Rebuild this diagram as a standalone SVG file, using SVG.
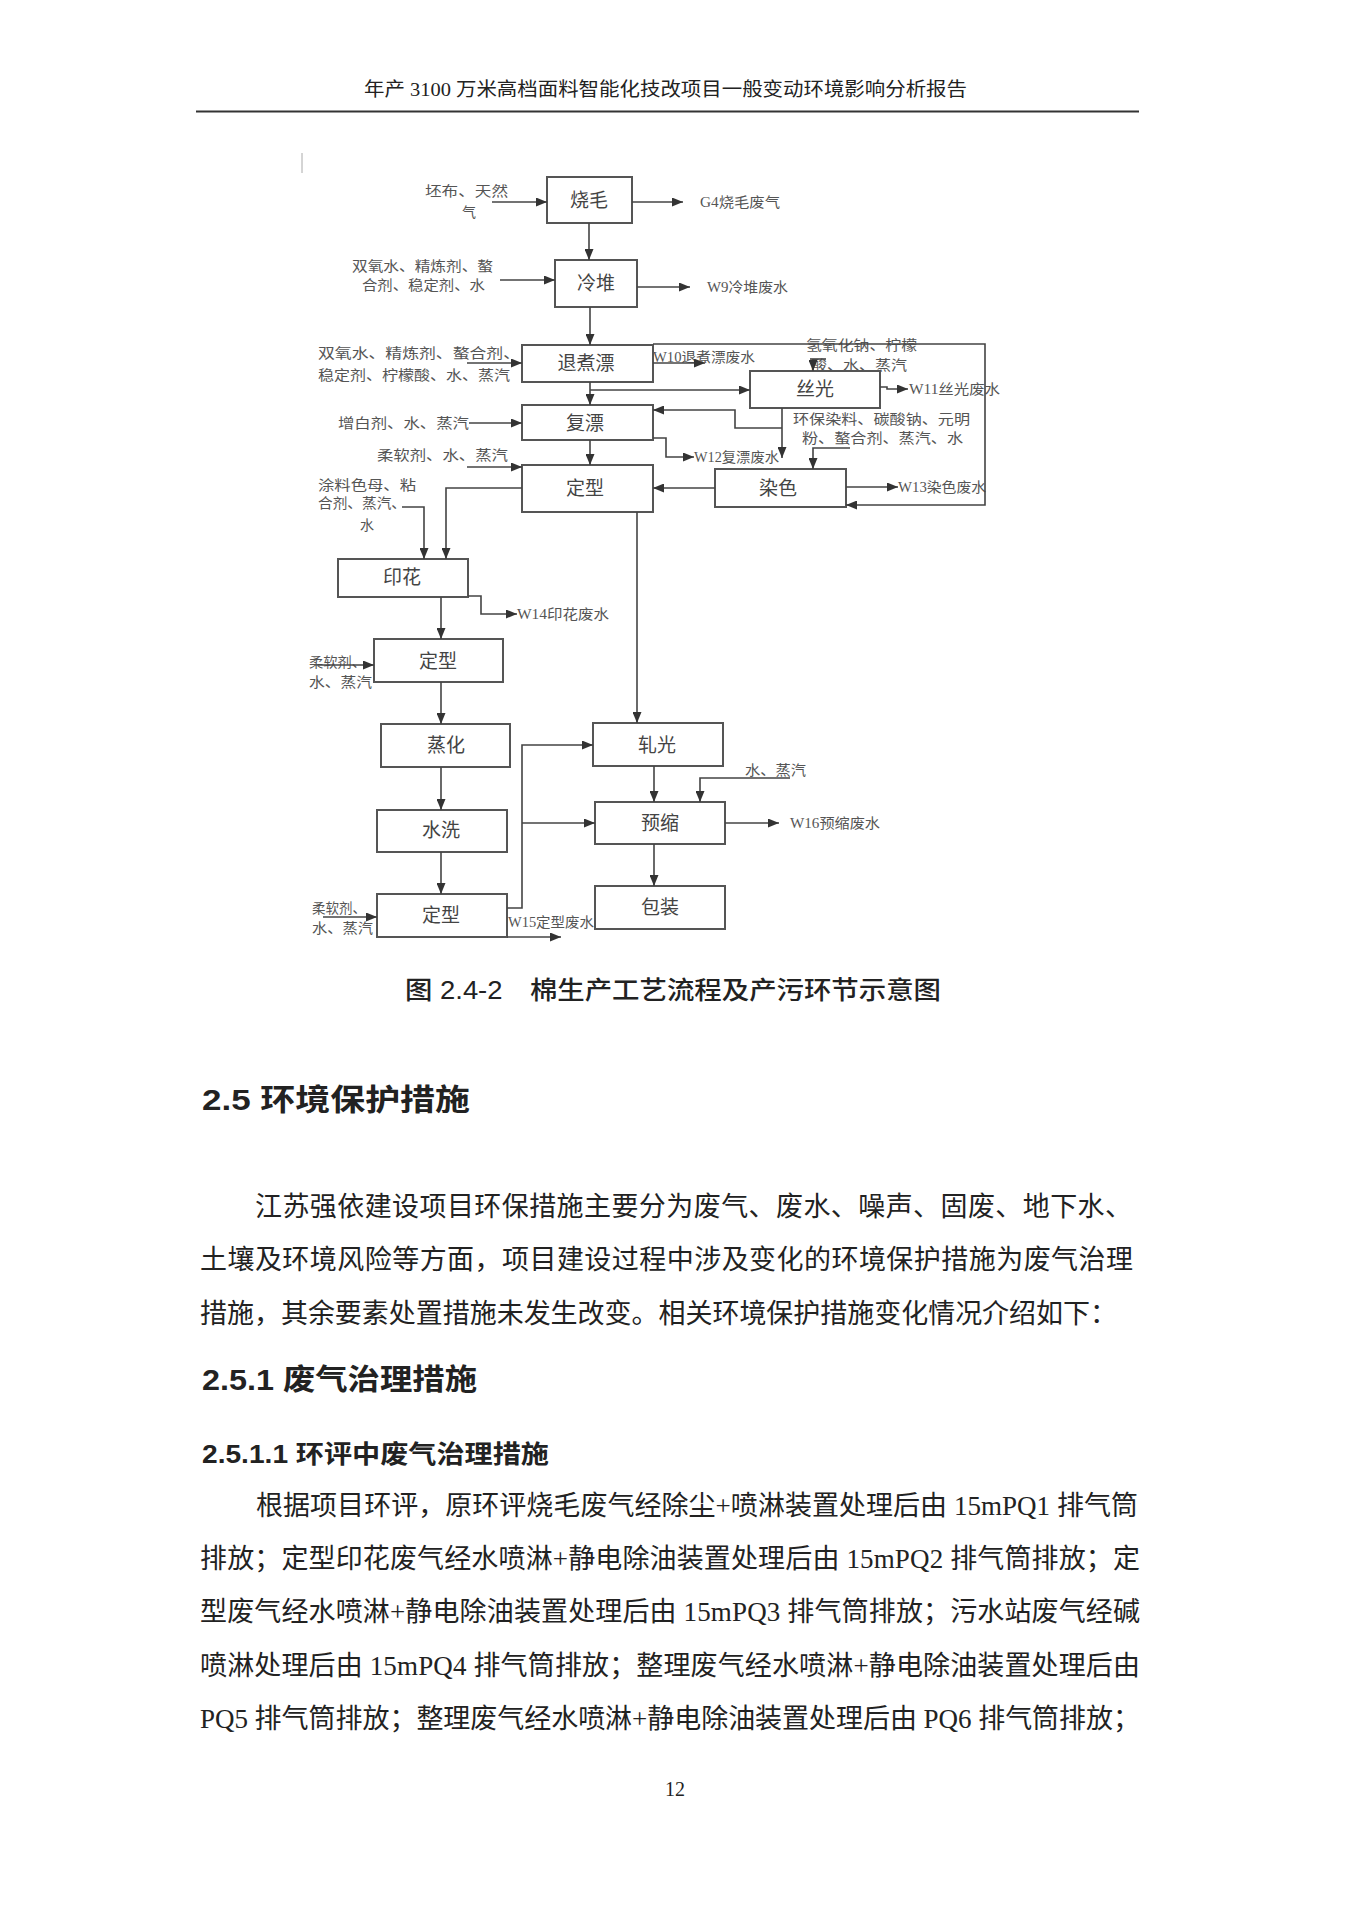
<svg xmlns="http://www.w3.org/2000/svg" width="1358" height="1920" viewBox="0 0 1358 1920">
<style>
.bx{fill:#fff;stroke:#555;stroke-width:2}
.bl{font-family:"Liberation Serif","Noto Sans CJK SC",serif;font-size:19px;fill:#444;text-anchor:middle;dominant-baseline:central}
.sl{font-family:"Liberation Serif","Noto Sans CJK SC",serif;font-size:14px;fill:#555;dominant-baseline:central}
.c{fill:none;stroke:#444;stroke-width:1.6}
.hd{font-family:"Liberation Serif","Noto Sans CJK SC",serif;font-size:19px;fill:#222;dominant-baseline:central}
.h{font-family:"Liberation Sans","Noto Sans CJK SC",sans-serif;fill:#222;dominant-baseline:central}
.p{font-family:"Liberation Serif","Noto Sans CJK SC",serif;font-size:27px;fill:#222;dominant-baseline:central}
</style>
<defs>
<marker id="ah" markerUnits="userSpaceOnUse" markerWidth="11" markerHeight="9" refX="11" refY="4.5" orient="auto">
<path d="M0,0 L11,4.5 L0,9 z" fill="#333"/>
</marker>
</defs>
<rect width="1358" height="1920" fill="#fff"/>

<!-- header -->
<text class="hd" x="364" y="89" textLength="603" lengthAdjust="spacingAndGlyphs">年产 3100 万米高档面料智能化技改项目一般变动环境影响分析报告</text>
<line x1="196" y1="111.5" x2="1139" y2="111.5" stroke="#333" stroke-width="2.2"/>
<line x1="302" y1="153" x2="302" y2="173" stroke="#aaa" stroke-width="1"/>

<!-- nodes -->
<g id="n-shaomao"><rect class="bx" x="547" y="177" width="85" height="46"/><text class="bl" x="589" y="200">烧毛</text></g>
<g id="n-lengdui"><rect class="bx" x="555" y="260" width="82" height="47"/><text class="bl" x="596" y="283">冷堆</text></g>
<g id="n-tuizhupiao"><rect class="bx" x="522" y="345" width="131" height="37"/><text class="bl" x="586" y="363">退煮漂</text></g>
<g id="n-siguang"><rect class="bx" x="750" y="371" width="130" height="37"/><text class="bl" x="815" y="389">丝光</text></g>
<g id="n-fupiao"><rect class="bx" x="522" y="405" width="131" height="35"/><text class="bl" x="585" y="423">复漂</text></g>
<g id="n-dingxing1"><rect class="bx" x="522" y="465" width="131" height="47"/><text class="bl" x="585" y="488">定型</text></g>
<g id="n-ranse"><rect class="bx" x="715" y="469" width="131" height="38"/><text class="bl" x="778" y="488">染色</text></g>
<g id="n-yinhua"><rect class="bx" x="338" y="559" width="130" height="38"/><text class="bl" x="402" y="577">印花</text></g>
<g id="n-dingxing2"><rect class="bx" x="374" y="639" width="129" height="43"/><text class="bl" x="438" y="661">定型</text></g>
<g id="n-zhenghua"><rect class="bx" x="381" y="724" width="129" height="43"/><text class="bl" x="446" y="745">蒸化</text></g>
<g id="n-shuixi"><rect class="bx" x="377" y="810" width="130" height="42"/><text class="bl" x="441" y="830">水洗</text></g>
<g id="n-dingxing3"><rect class="bx" x="377" y="894" width="130" height="43"/><text class="bl" x="441" y="915">定型</text></g>
<g id="n-yaguang"><rect class="bx" x="593" y="723" width="130" height="43"/><text class="bl" x="657" y="745">轧光</text></g>
<g id="n-yusuo"><rect class="bx" x="595" y="802" width="130" height="42"/><text class="bl" x="660" y="823">预缩</text></g>
<g id="n-baozhuang"><rect class="bx" x="595" y="886" width="130" height="43"/><text class="bl" x="660" y="907">包装</text></g>

<!-- side labels -->
<g id="labels">
<text class="sl" x="425" y="191" textLength="83" lengthAdjust="spacingAndGlyphs">坯布、天然</text>
<text class="sl" x="462" y="212">气</text>
<text class="sl" x="700" y="202" textLength="80" lengthAdjust="spacingAndGlyphs">G4烧毛废气</text>
<text class="sl" x="352" y="266" textLength="141" lengthAdjust="spacingAndGlyphs">双氧水、精炼剂、螯</text>
<text class="sl" x="362" y="285" textLength="123" lengthAdjust="spacingAndGlyphs">合剂、稳定剂、水</text>
<text class="sl" x="707" y="287" textLength="81" lengthAdjust="spacingAndGlyphs">W9冷堆废水</text>
<text class="sl" x="318" y="353" textLength="202" lengthAdjust="spacingAndGlyphs">双氧水、精炼剂、螯合剂、</text>
<text class="sl" x="318" y="375" textLength="192" lengthAdjust="spacingAndGlyphs">稳定剂、柠檬酸、水、蒸汽</text>
<text class="sl" x="653" y="357" textLength="102" lengthAdjust="spacingAndGlyphs">W10退煮漂废水</text>
<text class="sl" x="806" y="345" textLength="111" lengthAdjust="spacingAndGlyphs">氢氧化钠、柠檬</text>
<text class="sl" x="811" y="365" textLength="96" lengthAdjust="spacingAndGlyphs">酸、水、蒸汽</text>
<text class="sl" x="909" y="389" textLength="91" lengthAdjust="spacingAndGlyphs">W11丝光废水</text>
<text class="sl" x="338" y="423" textLength="131" lengthAdjust="spacingAndGlyphs">增白剂、水、蒸汽</text>
<text class="sl" x="793" y="419" textLength="177" lengthAdjust="spacingAndGlyphs">环保染料、碳酸钠、元明</text>
<text class="sl" x="802" y="438" textLength="161" lengthAdjust="spacingAndGlyphs">粉、螯合剂、蒸汽、水</text>
<text class="sl" x="694" y="457" textLength="85" lengthAdjust="spacingAndGlyphs">W12复漂废水</text>
<text class="sl" x="377" y="455" textLength="131" lengthAdjust="spacingAndGlyphs">柔软剂、水、蒸汽</text>
<text class="sl" x="898" y="487" textLength="88" lengthAdjust="spacingAndGlyphs">W13染色废水</text>
<text class="sl" x="318" y="485" textLength="98" lengthAdjust="spacingAndGlyphs">涂料色母、粘</text>
<text class="sl" x="318" y="503" textLength="88" lengthAdjust="spacingAndGlyphs">合剂、蒸汽、</text>
<text class="sl" x="360" y="525">水</text>
<text class="sl" x="517" y="614" textLength="92" lengthAdjust="spacingAndGlyphs">W14印花废水</text>
<text class="sl" x="309" y="662" textLength="57" lengthAdjust="spacingAndGlyphs">柔软剂、</text>
<text class="sl" x="309" y="682" textLength="63" lengthAdjust="spacingAndGlyphs">水、蒸汽</text>
<text class="sl" x="312" y="908" textLength="54" lengthAdjust="spacingAndGlyphs">柔软剂、</text>
<text class="sl" x="312" y="928" textLength="61" lengthAdjust="spacingAndGlyphs">水、蒸汽</text>
<text class="sl" x="508" y="922" textLength="86" lengthAdjust="spacingAndGlyphs">W15定型废水</text>
<text class="sl" x="745" y="770" textLength="61" lengthAdjust="spacingAndGlyphs">水、蒸汽</text>
<text class="sl" x="790" y="823" textLength="90" lengthAdjust="spacingAndGlyphs">W16预缩废水</text>
</g>

<!-- connectors -->
<g id="connectors">
<path class="c" d="M492,202 H547" marker-end="url(#ah)"/>
<path class="c" d="M632,202 H683" marker-end="url(#ah)"/>
<path class="c" d="M589,223 V260" marker-end="url(#ah)"/>
<path class="c" d="M500,280 H555" marker-end="url(#ah)"/>
<path class="c" d="M637,287 H690" marker-end="url(#ah)"/>
<path class="c" d="M590,307 V345" marker-end="url(#ah)"/>
<path class="c" d="M467,363 H522" marker-end="url(#ah)"/>
<path class="c" d="M653,363 H705" marker-end="url(#ah)"/>
<path class="c" d="M653,344 H985 V505 H846" marker-end="url(#ah)"/>
<path class="c" d="M590,382 V405" marker-end="url(#ah)"/>
<path class="c" d="M590,390 H750" marker-end="url(#ah)"/>
<path class="c" d="M810,359 H826"/>
<path class="c" d="M813,359 V371" marker-end="url(#ah)"/>
<path class="c" d="M880,387 H887 V389 H908" marker-end="url(#ah)"/>
<path class="c" d="M782,408 V458" marker-end="url(#ah)"/>
<path class="c" d="M782,428 H735 V410 H653" marker-end="url(#ah)"/>
<path class="c" d="M469,423 H522" marker-end="url(#ah)"/>
<path class="c" d="M653,438 H666 V457 H694" marker-end="url(#ah)"/>
<path class="c" d="M590,440 V465" marker-end="url(#ah)"/>
<path class="c" d="M850,448 H813 V469" marker-end="url(#ah)"/>
<path class="c" d="M846,487 H898" marker-end="url(#ah)"/>
<path class="c" d="M715,488 H653" marker-end="url(#ah)"/>
<path class="c" d="M467,467 H522" marker-end="url(#ah)"/>
<path class="c" d="M522,488 H446 V559" marker-end="url(#ah)"/>
<path class="c" d="M402,507 H424 V559" marker-end="url(#ah)"/>
<path class="c" d="M468,596 H481 V614 H517" marker-end="url(#ah)"/>
<path class="c" d="M441,597 V639" marker-end="url(#ah)"/>
<path class="c" d="M318,665 H374" marker-end="url(#ah)"/>
<path class="c" d="M441,682 V724" marker-end="url(#ah)"/>
<path class="c" d="M441,767 V810" marker-end="url(#ah)"/>
<path class="c" d="M441,852 V894" marker-end="url(#ah)"/>
<path class="c" d="M323,917 H377" marker-end="url(#ah)"/>
<path class="c" d="M507,908 H522 V745 H593" marker-end="url(#ah)"/>
<path class="c" d="M522,823 H595" marker-end="url(#ah)"/>
<path class="c" d="M507,937 H561" marker-end="url(#ah)"/>
<path class="c" d="M637,512 V723" marker-end="url(#ah)"/>
<path class="c" d="M654,766 V802" marker-end="url(#ah)"/>
<path class="c" d="M790,778 H700 V802" marker-end="url(#ah)"/>
<path class="c" d="M725,823 H779" marker-end="url(#ah)"/>
<path class="c" d="M654,844 V886" marker-end="url(#ah)"/>
</g>

<!-- caption -->
<text class="h" x="405" y="990" font-size="25" font-weight="500" textLength="536" lengthAdjust="spacingAndGlyphs">图 2.4-2　棉生产工艺流程及产污环节示意图</text>

<!-- body -->
<text class="h" x="202" y="1099" font-size="30" font-weight="bold" textLength="268" lengthAdjust="spacingAndGlyphs">2.5 环境保护措施</text>
<text class="p" x="255" y="1207" textLength="877" lengthAdjust="spacing">江苏强依建设项目环保措施主要分为废气、废水、噪声、固废、地下水、</text>
<text class="p" x="200" y="1260" textLength="933" lengthAdjust="spacing">土壤及环境风险等方面，项目建设过程中涉及变化的环境保护措施为废气治理</text>
<text class="p" x="200" y="1314" textLength="917" lengthAdjust="spacing">措施，其余要素处置措施未发生改变。相关环境保护措施变化情况介绍如下：</text>
<text class="h" x="202" y="1380" font-size="29" font-weight="bold" textLength="275" lengthAdjust="spacingAndGlyphs">2.5.1 废气治理措施</text>
<text class="h" x="202" y="1454" font-size="25" font-weight="bold" textLength="347" lengthAdjust="spacingAndGlyphs">2.5.1.1 环评中废气治理措施</text>
<text class="p" x="256" y="1506" textLength="882" lengthAdjust="spacing">根据项目环评，原环评烧毛废气经除尘+喷淋装置处理后由 15mPQ1 排气筒</text>
<text class="p" x="200" y="1559" textLength="940" lengthAdjust="spacing">排放；定型印花废气经水喷淋+静电除油装置处理后由 15mPQ2 排气筒排放；定</text>
<text class="p" x="200" y="1612" textLength="940" lengthAdjust="spacing">型废气经水喷淋+静电除油装置处理后由 15mPQ3 排气筒排放；污水站废气经碱</text>
<text class="p" x="200" y="1666" textLength="940" lengthAdjust="spacing">喷淋处理后由 15mPQ4 排气筒排放；整理废气经水喷淋+静电除油装置处理后由</text>
<text class="p" x="200" y="1719" textLength="940" lengthAdjust="spacing">PQ5 排气筒排放；整理废气经水喷淋+静电除油装置处理后由 PQ6 排气筒排放；</text>
<text x="675" y="1789" font-family="Liberation Serif, serif" font-size="20" fill="#222" text-anchor="middle" dominant-baseline="central">12</text>
</svg>
